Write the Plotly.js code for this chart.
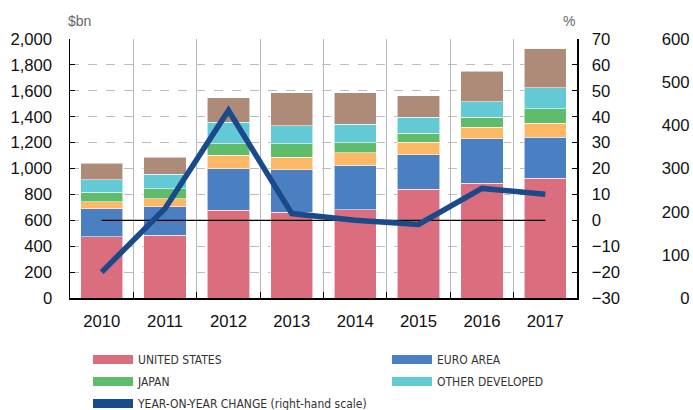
<!DOCTYPE html>
<html>
<head>
<meta charset="utf-8">
<script src="https://cdn.plot.ly/plotly-3.0.1.min.js"></script>
<style>html,body{margin:0;padding:0;background:#fff;}#chart{width:693px;height:410px;}</style>
</head>
<body>
<div id="chart"></div>
<script>
const years = ['2010','2011','2012','2013','2014','2015','2016','2017'];
const unitedStates = [474, 485, 678, 662, 680, 840, 887, 923];
const euroArea = [214, 219, 322, 330, 346, 266, 343, 317];
const orangeSeries = [54, 64, 103, 96, 95, 95, 87, 111];
const japan = [75, 75, 88, 103, 78, 70, 78, 111];
const otherDeveloped = [98, 111, 165, 141, 144, 126, 121, 162];
const brownSeries = [126, 134, 190, 253, 242, 163, 234, 302];
const yoyChange = [-20, 4.6, 42.4, 2.6, 0, -1.6, 12.3, 10.1];
const zeroLine = [0, 0, 0, 0, 0, 0, 0, 0];

const colors = {
  us: '#DB6E7E', ea: '#4A80C1', orange: '#FDB866', jp: '#5EBC6B',
  od: '#62C9D5', brown: '#AE8B78', line: '#1A4A8A'
};

function barTrace(name, vals, color) {
  return {
    type: 'bar', name: name, x: years, y: vals, showlegend: false,
    marker: {color: color, line: {color: 'rgba(255,255,255,0.55)', width: 1}},
    hoverinfo: 'skip'
  };
}
function legendTrace(name, color, legendId) {
  return {
    type: 'scatter', mode: 'lines', name: name, x: [null], y: [null],
    xaxis: 'x2', yaxis: 'y3',
    legend: legendId, legendgroup: name,
    line: {color: color, width: 9}, showlegend: true, hoverinfo: 'skip'
  };
}

const traces = [
  barTrace('UNITED STATES', unitedStates, colors.us),
  barTrace('EURO AREA', euroArea, colors.ea),
  barTrace('OTHER', orangeSeries, colors.orange),
  barTrace('JAPAN', japan, colors.jp),
  barTrace('OTHER DEVELOPED', otherDeveloped, colors.od),
  barTrace('REST', brownSeries, colors.brown),
  {type: 'scatter', mode: 'lines', x: years, y: zeroLine, yaxis: 'y2',
   line: {color: '#000', width: 1.2}, showlegend: false, hoverinfo: 'skip'},
  {type: 'scatter', mode: 'lines', x: years, y: yoyChange, yaxis: 'y2',
   line: {color: colors.line, width: 5.5}, showlegend: false, hoverinfo: 'skip'},
  legendTrace('UNITED STATES', colors.us, 'legend'),
  legendTrace('JAPAN', colors.jp, 'legend'),
  legendTrace('YEAR-ON-YEAR CHANGE (right-hand scale)', colors.line, 'legend'),
  legendTrace('EURO AREA', colors.ea, 'legend2'),
  legendTrace('OTHER DEVELOPED', colors.od, 'legend2')
];

const tickFont = {family: 'Liberation Sans, Arial, sans-serif', size: 16.7, color: '#111'};
const legFont = {family: 'DejaVu Sans Condensed, Liberation Sans Narrow, sans-serif', size: 12, color: '#333'};

const layout = {
  width: 693, height: 410,
  margin: {l: 70, r: 0, t: 39, b: 112, autoexpand: false},
  paper_bgcolor: '#fff', plot_bgcolor: 'rgba(0,0,0,0)',
  barmode: 'stack', bargap: 0.333,
  showlegend: true,
  xaxis: {
    type: 'category', domain: [0, 507 / 623], tickson: 'boundaries',
    showgrid: true, gridcolor: '#b8b8b8', gridwidth: 1,
    ticks: 'inside', ticklen: 6, tickcolor: '#000',
    showline: true, linecolor: '#000', linewidth: 1.5,
    tickfont: tickFont, ticklabelstandoff: 7, fixedrange: true
  },
  xaxis2: {
    domain: [0.996, 1], anchor: 'y3', range: [0, 1], visible: false, fixedrange: true
  },
  yaxis: {
    range: [0, 2000], dtick: 200, tickformat: ',',
    showgrid: true, gridcolor: '#bdbdbd', griddash: 'dash', gridwidth: 1,
    ticks: 'inside', ticklen: 5, tickcolor: '#000',
    showline: true, linecolor: '#000', linewidth: 1.5, zeroline: false,
    tickfont: tickFont, ticklabelstandoff: 13, fixedrange: true
  },
  yaxis2: {
    range: [-30, 70], dtick: 10, overlaying: 'y', side: 'right', anchor: 'x',
    showgrid: false, zeroline: false,
    ticks: 'inside', ticklen: 5, tickcolor: '#000',
    showline: true, linecolor: '#000', linewidth: 1.5,
    tickfont: tickFont, ticklabelstandoff: 10, fixedrange: true
  },
  yaxis3: {
    range: [0, 600], dtick: 100, anchor: 'x2', side: 'left',
    showgrid: false, zeroline: false, showline: false, ticks: '',
    tickfont: tickFont, ticklabelstandoff: 0, fixedrange: true, automargin: false
  },
  legend: {
    orientation: 'v', xref: 'container', yref: 'container',
    x: 88 / 693, xanchor: 'left', y: 1 - 345 / 410, yanchor: 'top',
    itemwidth: 40, traceorder: 'grouped',
    font: legFont, tracegroupgap: 3, bgcolor: 'rgba(0,0,0,0)'
  },
  legend2: {
    orientation: 'v', xref: 'container', yref: 'container',
    x: 387 / 693, xanchor: 'left', y: 1 - 345 / 410, yanchor: 'top',
    itemwidth: 40, traceorder: 'grouped',
    font: legFont, tracegroupgap: 3, bgcolor: 'rgba(0,0,0,0)'
  },
  annotations: [
    {text: '$bn', xref: 'paper', yref: 'paper', x: -0.006, y: 1.07, xanchor: 'left', yanchor: 'middle',
     showarrow: false, font: {family: 'Liberation Sans, Arial, sans-serif', size: 14, color: '#666'}},
    {text: '%', xref: 'paper', yref: 'paper', x: 507 / 623, y: 1.07, xanchor: 'right', yanchor: 'middle',
     showarrow: false, font: {family: 'Liberation Sans, Arial, sans-serif', size: 14, color: '#666'}}
  ]
};

Plotly.newPlot('chart', traces, layout, {displayModeBar: false, staticPlot: true});
</script>
</body>
</html>
